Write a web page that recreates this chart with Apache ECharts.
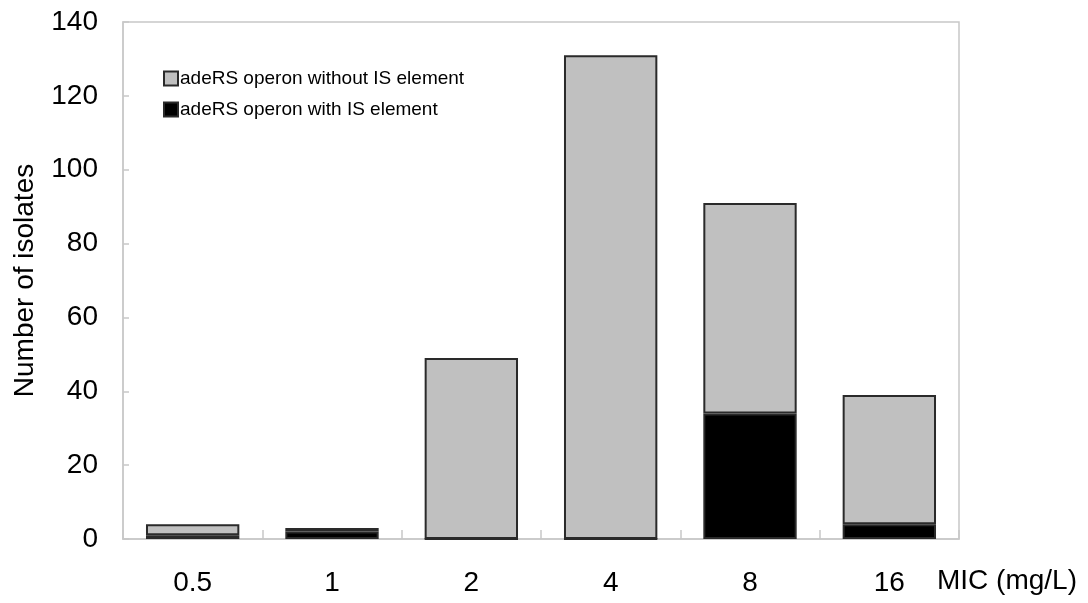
<!DOCTYPE html>
<html><head><meta charset="utf-8">
<script src="https://cdn.jsdelivr.net/npm/echarts@6/dist/echarts.min.js"></script>
<style>html,body{margin:0;padding:0;background:#fff}#c{width:1088px;height:603px}</style>
</head><body><div id="c"></div>
<script>
const categories = ['0.5', '1', '2', '4', '8', '16'];
const withIS = [1, 2, 0, 0, 34, 4];
const withoutIS = [3, 1, 49, 131, 57, 35];
const yTicks = [0, 20, 40, 60, 80, 100, 120, 140];
const seriesNames = ['adeRS operon without IS element', 'adeRS operon with IS element'];

const chart = echarts.init(document.getElementById('c'));
const font = 'Liberation Sans, Arial, sans-serif';
chart.setOption({
  animation: false,
  backgroundColor: '#fff',
  grid: {left: 123, right: 129, top: 22, bottom: 64, show: true, borderColor: '#c8c8c8', borderWidth: 1.5},
  legend: {
    left: 158, top: 64, orient: 'vertical', itemGap: 12,
    itemWidth: 14, itemHeight: 14, icon: 'rect',
    data: seriesNames,
    textStyle: {fontFamily: font, fontSize: 19, color: '#000', padding: [0,0,0,-3]}
  },
  xAxis: {
    type: 'category', data: categories,
    axisLine: {lineStyle: {color: '#c8c8c8', width: 1.5}},
    axisTick: {show: true, inside: true, length: 9, lineStyle: {color: '#c8c8c8', width: 1.5}},
    axisLabel: {fontFamily: font, fontSize: 28, color: '#000', margin: 30},
    splitLine: {show: false}
  },
  yAxis: {
    type: 'value', min: 0, max: 140, interval: 20,
    name: 'Number of isolates', nameLocation: 'middle', nameGap: 84,
    nameTextStyle: {fontFamily: font, fontSize: 28, color: '#000'},
    axisLine: {show: true, lineStyle: {color: '#c8c8c8', width: 1.5}},
    axisTick: {show: true, inside: true, length: 6, lineStyle: {color: '#c8c8c8', width: 1.5}},
    axisLabel: {fontFamily: font, fontSize: 28, color: '#000', margin: 25,
      formatter: v => yTicks.includes(v) ? String(v) : ''},
    splitLine: {show: false}
  },
  graphic: [{
    type: 'text', left: 937, top: 567,
    style: {text: 'MIC (mg/L)', font: '28px ' + font, fill: '#000'}
  }],
  series: [
    {
      name: seriesNames[1], type: 'bar', stack: 'a', data: withIS, barWidth: '67%',
      itemStyle: {color: '#000', borderColor: '#2a2a2a', borderWidth: 2}
    },
    {
      name: seriesNames[0], type: 'bar', stack: 'a', data: withoutIS, barWidth: '67%',
      itemStyle: {color: '#c0c0c0', borderColor: '#2a2a2a', borderWidth: 2}
    }
  ]
});
</script></body></html>
